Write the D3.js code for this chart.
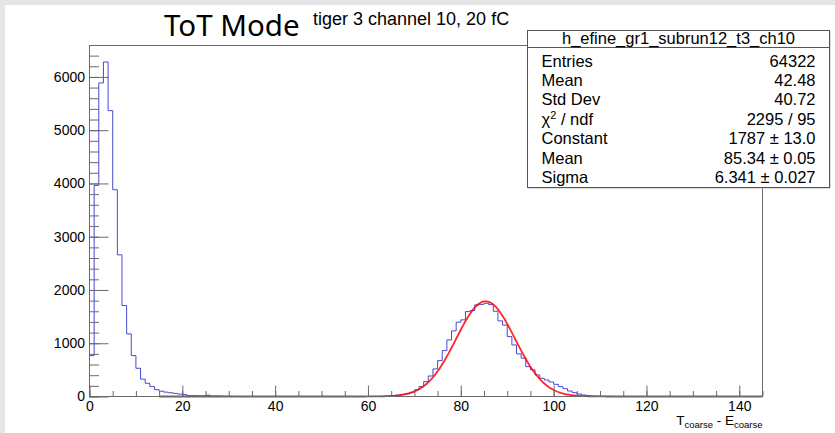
<!DOCTYPE html>
<html><head><meta charset="utf-8">
<script src="https://cdn.jsdelivr.net/npm/d3@7"></script>
<style>body{margin:0;background:#fff}svg{display:block}</style>
</head><body>
<svg id="c" width="835" height="433"></svg>
<script>
// ---- data ----
const binLowEdge = 0;
const binWidth = 1;
const counts = [
  768, 3963, 5887, 6281, 5367, 3882, 2660, 1707, 1175, 768,      // 0-9
  530, 326, 248, 185, 128, 100, 82, 70, 58, 45,                  // 10-19
  35, 15, 14, 12, 12, 25, 8, 10, 6, 3,                           // 20-29
  2, 0, 0, 0, 0, 0, 0, 0, 0, 0,                                  // 30-39
  0, 0, 0, 0, 0, 0, 0, 0, 0, 0,                                  // 40-49
  0, 0, 0, 0, 0, 0, 0, 0, 0, 0,                                  // 50-59
  1, 1, 2, 4, 7, 14, 22, 35, 50, 80,                             // 60-69
  125, 185, 280, 385, 517, 674, 862, 1063, 1232, 1395,           // 70-79
  1439, 1594, 1613, 1720, 1730, 1750, 1725, 1600, 1420, 1340,    // 80-89
  1125, 968, 800, 720, 560, 500, 405, 342, 310, 273,             // 90-99
  229, 185, 147, 103, 72, 47, 28, 16, 9, 6,                      // 100-109
  4, 3, 2, 0, 0, 0, 0, 0, 0, 0,                                  // 110-119
  0, 0, 0, 0, 0, 0, 0, 0, 0, 0,                                  // 120-129
  0, 0, 0, 0, 0, 0, 0, 0, 0, 0,                                  // 130-139
  0, 0, 0, 0, 0                                                  // 140-144
];
const xDomain = [0, 145];
const yDomain = [0, 6590];
const xMajorTicks = [0, 20, 40, 60, 80, 100, 120, 140];
const xMinorTicks = d3.range(0, 146, 5);
const yMajorTicks = [0, 1000, 2000, 3000, 4000, 5000, 6000];
const yMinorTicks = d3.range(0, 6590, 200);
const fitNames = ["Constant", "Mean", "Sigma"];
const fitValues = [1787, 85.34, 6.341];
const fitRange = [15, 145];
const statsTitle = "h_efine_gr1_subrun12_t3_ch10";
const statsLabels = ["Entries", "Mean", "Std Dev", "CHI", "Constant", "Mean", "Sigma"];
const statsValues = ["64322", "42.48", "40.72", "2295 / 95", "1787 ± 13.0", "85.34 ± 0.05", "6.341 ± 0.027"];
const titleMain = "ToT Mode";
const titleSub = "tiger 3 channel 10, 20 fC";

// ---- layout ----
const svg = d3.select("#c");
const W = 835, H = 433;
const F = {l: 89.5, r: 762.5, t: 45.5, b: 396.5};
const axisColor = "#6a6a6a";
const sans = "'Liberation Sans', Arial, Helvetica, sans-serif";

svg.append("rect").attr("width", W).attr("height", H).attr("fill", "#e6e6e6");
svg.append("rect").attr("x", 5).attr("y", 5).attr("width", W - 5).attr("height", H - 5).attr("fill", "#fff");

const x = d3.scaleLinear().domain(xDomain).range([F.l, F.r]);
const y = d3.scaleLinear().domain(yDomain).range([F.b, F.t]);

svg.append("defs").append("clipPath").attr("id", "clip")
  .append("rect").attr("x", F.l).attr("y", F.t - 2).attr("width", F.r - F.l).attr("height", F.b - F.t + 4);

// histogram
const pts = [{x: binLowEdge, c: 0}];
counts.forEach((c, i) => pts.push({x: binLowEdge + i * binWidth, c}));
pts.push({x: binLowEdge + counts.length * binWidth, c: counts[counts.length - 1]});
const histLine = d3.line().x(d => x(d.x)).y(d => y(d.c)).curve(d3.curveStepAfter);
svg.append("path").attr("d", histLine(pts)).attr("fill", "none")
  .attr("stroke", "#4848d4").attr("stroke-width", 1).attr("clip-path", "url(#clip)");

// gaussian fit
const [A, mu, sg] = fitValues;
const fx = d3.range(fitRange[0], fitRange[1] + 0.001, 0.25);
const fitLine = d3.line().x(d => x(d)).y(d => y(A * Math.exp(-0.5 * ((d - mu) / sg) ** 2))).curve(d3.curveLinear);
svg.append("path").attr("d", fitLine(fx)).attr("fill", "none")
  .attr("stroke", "#ff0000").attr("stroke-opacity", 0.85).attr("stroke-width", 1.8).attr("clip-path", "url(#clip)");

// axes
function styleAxis(g) {
  g.select(".domain").remove();
  g.selectAll(".tick line").attr("stroke", axisColor);
  g.selectAll("text").attr("font-family", sans).attr("font-size", 14).attr("fill", "#000");
}
svg.append("g").attr("transform", `translate(0,${F.b})`)
  .call(d3.axisBottom(x).tickValues(xMinorTicks).tickSize(-5.5).tickFormat(""))
  .call(styleAxis);
svg.append("g").attr("transform", `translate(0,${F.b})`)
  .call(d3.axisBottom(x).tickValues(xMajorTicks).tickSize(-11).tickPadding(5).tickFormat(d3.format("d")))
  .call(styleAxis);
svg.append("g").attr("transform", `translate(${F.l},0)`)
  .call(d3.axisLeft(y).tickValues(yMinorTicks).tickSize(-9.5).tickFormat(""))
  .call(styleAxis);
svg.append("g").attr("transform", `translate(${F.l},0)`)
  .call(d3.axisLeft(y).tickValues(yMajorTicks).tickSize(-19).tickPadding(4.5).tickFormat(d3.format("d")))
  .call(styleAxis);

// frame
svg.append("rect").attr("x", F.l).attr("y", F.t).attr("width", F.r - F.l).attr("height", F.b - F.t)
  .attr("fill", "none").attr("stroke", axisColor).attr("stroke-width", 1);

// axis title
const xt = svg.append("text").attr("x", F.r).attr("y", 425).attr("text-anchor", "end")
  .attr("font-family", sans).attr("font-size", 13.5).attr("fill", "#000");
xt.append("tspan").text("T");
xt.append("tspan").attr("font-size", 9.5).attr("dy", 3).text("coarse");
xt.append("tspan").attr("dy", -3).text(" - E");
xt.append("tspan").attr("font-size", 9.5).attr("dy", 3).text("coarse");

// titles
svg.append("text").attr("x", 164).attr("y", 36).attr("font-family", "'Noto Sans', 'Open Sans', sans-serif")
  .attr("font-size", 29.5).attr("fill", "#000").text(titleMain);
svg.append("text").attr("x", 313).attr("y", 25).attr("font-family", sans)
  .attr("font-size", 18).attr("fill", "#000").text(titleSub);

// stats box
const B = {l: 527.5, r: 829.5, t: 30.5, h: 47.5, b: 187.5};
svg.append("rect").attr("x", B.l + 1).attr("y", B.t + 1).attr("width", B.r - B.l).attr("height", B.b - B.t)
  .attr("fill", "#bbb");
svg.append("rect").attr("x", B.l).attr("y", B.t).attr("width", B.r - B.l).attr("height", B.b - B.t)
  .attr("fill", "#fff").attr("stroke", "#555").attr("stroke-width", 1);
svg.append("line").attr("x1", B.l).attr("x2", B.r).attr("y1", B.h).attr("y2", B.h)
  .attr("stroke", "#555").attr("stroke-width", 1);
svg.append("text").attr("x", (B.l + B.r) / 2).attr("y", 44).attr("text-anchor", "middle")
  .attr("font-family", sans).attr("font-size", 16.5).attr("fill", "#000").text(statsTitle);
statsLabels.forEach((lab, i) => {
  const yy = 66.5 + i * 19.45;
  const t = svg.append("text").attr("x", 541.5).attr("y", yy)
    .attr("font-family", sans).attr("font-size", 16.5).attr("fill", "#000");
  if (lab === "CHI") {
    t.append("tspan").text("χ");
    t.append("tspan").attr("font-size", 11).attr("dy", -6).text("2");
    t.append("tspan").attr("dy", 6).text(" / ndf");
  } else t.text(lab);
  svg.append("text").attr("x", 815.5).attr("y", yy).attr("text-anchor", "end")
    .attr("font-family", sans).attr("font-size", 16.5).attr("fill", "#000").text(statsValues[i]);
});
</script>
</body></html>
